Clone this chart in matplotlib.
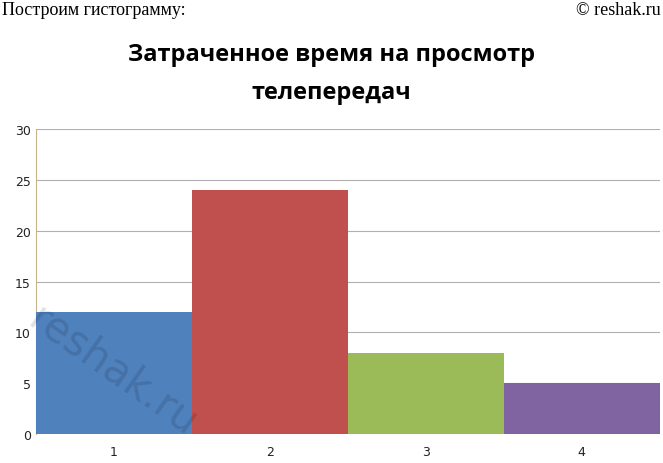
import matplotlib.pyplot as plt

categories = ["1", "2", "3", "4"]
values = [12, 24, 8, 5]
colors = ["#4f81bd", "#c0504d", "#9bbb59", "#8064a2"]
y_ticks = [0, 5, 10, 15, 20, 25, 30]

fig = plt.figure(figsize=(6.63, 4.64), dpi=100)
ax = fig.add_axes([0.054, 0.0625, 0.941, 0.657])

x = list(range(len(categories)))
ax.bar(x, values, width=1.0, color=colors, zorder=3)
ax.set_xlim(-0.5, len(categories) - 0.5)
ax.set_ylim(0, 30)
ax.set_yticks(y_ticks)
ax.set_xticks(x)
ax.set_xticklabels(categories)
ax.tick_params(axis="both", length=0, labelsize=9, colors="#222222")
ax.tick_params(axis="x", pad=8)
ax.grid(axis="y", color="#b0b0b0", linewidth=0.8, zorder=0)
for s in ["top", "right", "bottom"]:
    ax.spines[s].set_visible(False)
ax.spines["left"].set_color("#c8b48c")

fig.text(0.5, 0.84, "Затраченное время на просмотр\nтелепередач", ha="center", va="center",
         fontsize=17, fontweight="bold", family="Open Sans", linespacing=1.75)
fig.text(0.003, 0.995, "Построим гистограмму:", ha="left", va="top",
         fontsize=13, family="Liberation Serif")
fig.text(0.997, 0.995, "© reshak.ru", ha="right", va="top",
         fontsize=13, family="Liberation Serif")
fig.text(0.17, 0.2, "reshak.ru", ha="center", va="center", fontsize=30, rotation=-35,
         color="#000000", alpha=0.12, family="DejaVu Sans")

fig.savefig("out.png", dpi=100)
